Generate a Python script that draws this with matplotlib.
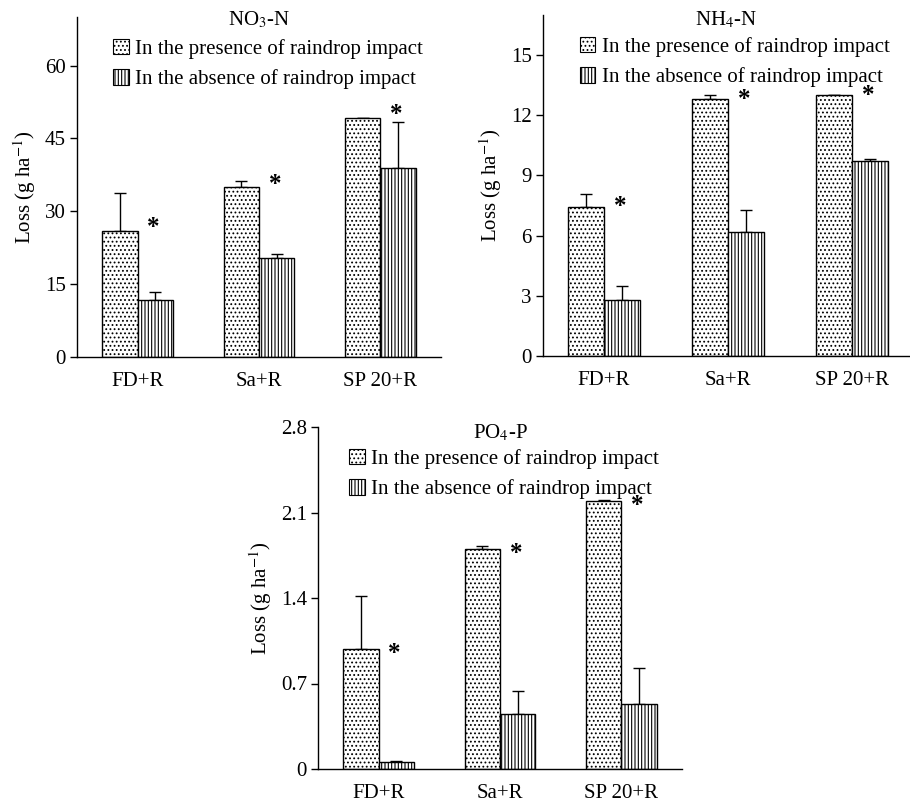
import numpy as np
import matplotlib
matplotlib.use("Agg")
import matplotlib.pyplot as plt
from matplotlib.patches import Patch

plt.rcParams['font.family'] = ['Liberation Serif', 'DejaVu Serif']
plt.rcParams['mathtext.fontset'] = 'stix'
plt.rcParams['hatch.linewidth'] = 0.8

# data
categories = ['FD+R', 'Sa+R', 'SP 20+R']
series_labels = ['In the presence of raindrop impact', 'In the absence of raindrop impact']

no3_present = [26.0, 34.9, 49.3]
no3_present_err = [7.7, 1.3, 0.0]
no3_absent = [11.7, 20.3, 39.0]
no3_absent_err = [1.7, 0.9, 9.3]

nh4_present = [7.43, 12.8, 13.0]
nh4_present_err = [0.65, 0.2, 0.0]
nh4_absent = [2.79, 6.18, 9.72]
nh4_absent_err = [0.7, 1.1, 0.08]

po4_present = [0.983, 1.798, 2.195]
po4_present_err = [0.436, 0.03, 0.006]
po4_absent = [0.054, 0.452, 0.531]
po4_absent_err = [0.009, 0.183, 0.294]

panels = [
    dict(title='NO$_3$-N', pres=no3_present, pres_err=no3_present_err,
         abs_=no3_absent, abs_err=no3_absent_err, ticks=[0, 15, 30, 45, 60],
         ticklabels=['0', '15', '30', '45', '60'], ylim=70,
         rect=[77, 17, 441, 357], xlim=(-0.5, 2.5), leg_x=0.1, title_dy=8,
         star_dy=2),
    dict(title='NH$_4$-N', pres=nh4_present, pres_err=nh4_present_err,
         abs_=nh4_absent, abs_err=nh4_absent_err, ticks=[0, 3, 6, 9, 12, 15],
         ticklabels=['0', '3', '6', '9', '12', '15'], ylim=17,
         rect=[543, 15, 910, 356], xlim=(-0.49, 2.47), leg_x=0.1, title_dy=10,
         star_dy=0),
    dict(title='PO$_4$-P', pres=po4_present, pres_err=po4_present_err,
         abs_=po4_absent, abs_err=po4_absent_err, ticks=[0, 0.7, 1.4, 2.1, 2.8],
         ticklabels=['0', '0.7', '1.4', '2.1', '2.8'], ylim=2.8,
         rect=[318, 427, 682, 769], xlim=(-0.5, 2.5), leg_x=0.085, title_dy=11,
         star_dy=-3),
]

W, H = 910, 802
fig = plt.figure(figsize=(W / 100, H / 100), dpi=100)

width = 0.29
x = np.arange(len(categories))
fs = 15
dots = '....'
lines = '|||||'

for p in panels:
    l, t, r, b = p['rect']
    ax = fig.add_axes([l / W, 1 - b / H, (r - l) / W, (b - t) / H])
    ax_h = b - t

    ax.bar(x - width / 2, p['pres'], width, color='white', edgecolor='black',
           hatch=dots, linewidth=1.0, zorder=2)
    ax.bar(x + width / 2, p['abs_'], width, color='white', edgecolor='black',
           hatch=lines, linewidth=1.0, zorder=2)
    ax.errorbar(x - width / 2, p['pres'], yerr=[np.zeros(3), p['pres_err']],
                fmt='none', ecolor='black', elinewidth=1, capsize=4, zorder=1)
    ax.errorbar(x + width / 2, p['abs_'], yerr=[np.zeros(3), p['abs_err']],
                fmt='none', ecolor='black', elinewidth=1, capsize=4, zorder=1)

    # significance stars sit next to the top of the "presence" bars
    for xi, v in zip(x, p['pres']):
        ax.annotate('*', xy=(xi + 0.13, v), xytext=(0, p['star_dy']),
                    textcoords='offset points', ha='center', va='center',
                    fontsize=18, fontweight='bold')

    ax.set_xlim(*p['xlim'])
    ax.set_ylim(0, p['ylim'])
    ax.set_yticks(p['ticks'])
    ax.set_yticklabels(p['ticklabels'])
    ax.set_xticks(x)
    ax.set_xticklabels(categories)
    ax.tick_params(axis='x', length=0, pad=11, labelsize=fs)
    ax.tick_params(axis='y', direction='out', length=5, width=1, pad=3, labelsize=fs)
    for s in ['top', 'right']:
        ax.spines[s].set_visible(False)
    ax.spines['left'].set_linewidth(1)
    ax.spines['bottom'].set_linewidth(1)
    ax.set_ylabel('Loss (g ha$^{-1}$)', fontsize=fs, labelpad=5)

    ax.text(0.5, 1 - p['title_dy'] / ax_h, p['title'], transform=ax.transAxes,
            ha='center', va='baseline', fontsize=fs)

    handles = [Patch(facecolor='white', edgecolor='black', hatch=dots, linewidth=0.8),
               Patch(facecolor='white', edgecolor='black', hatch=lines, linewidth=0.8)]
    ax.legend(handles, series_labels, loc='upper left',
              bbox_to_anchor=(p['leg_x'], 1 - 22 / ax_h), frameon=False, fontsize=fs,
              handlelength=0.75, handleheight=0.75, handletextpad=0.3,
              labelspacing=0.5, borderaxespad=0, borderpad=0)

fig.savefig('out.png', dpi=100)
